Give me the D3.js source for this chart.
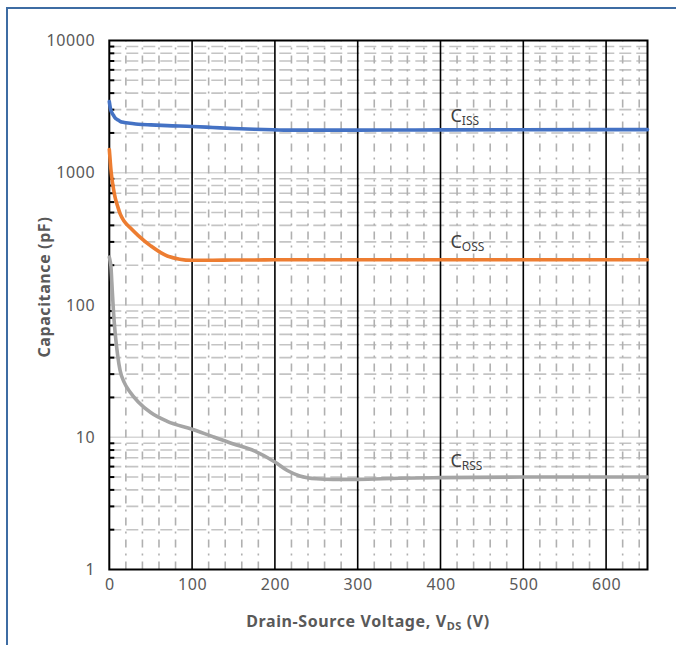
<!DOCTYPE html>
<html>
<head>
<meta charset="utf-8">
<script src="https://cdn.jsdelivr.net/npm/d3@7/dist/d3.min.js"></script>
<style>
  html, body { margin: 0; padding: 0; background: #fff; }
  svg { display: block; }
</style>
</head>
<body>
<script>
// ---- data ----
const vds  = [0, 1, 2, 3, 5, 7, 10, 13, 18, 25, 35, 50, 70, 100, 125, 150, 175, 200, 215, 230, 250, 270, 300, 350, 400, 500, 650];
const ciss = [3450, 3150, 2950, 2850, 2720, 2600, 2520, 2450, 2400, 2370, 2330, 2300, 2270, 2240, 2200, 2160, 2130, 2110, 2100, 2100, 2100, 2100, 2100, 2105, 2110, 2115, 2120];
const coss = [1500, 1250, 1050, 920, 760, 650, 560, 490, 430, 385, 335, 280, 235, 218, 218, 219, 219, 220, 220, 220, 220, 220, 220, 220, 220, 220, 220];
const crss = [230, 215, 195, 150, 90, 62, 42, 32, 26, 22, 18.5, 15.4, 13.2, 11.5, 10.1, 8.9, 7.9, 6.5, 5.6, 5.1, 4.85, 4.8, 4.8, 4.9, 4.95, 5.0, 5.0];
const seriesNames = ["C", "C", "C"];
const seriesSubs  = ["ISS", "OSS", "RSS"];
const seriesColors = ["#4472C4", "#ED7D31", "#A5A5A5"];
const labelAt = [[412, 2420], [412, 270], [412, 6.0]];
const xTicks = [0, 100, 200, 300, 400, 500, 600];
const yTicks = [1, 10, 100, 1000, 10000];
const xTitle = "Drain-Source Voltage, V";
const xTitleSub = "DS";
const xTitleEnd = " (V)";
const yTitle = "Capacitance (pF)";

// ---- layout ----
const W = 676, H = 645;
const L = 109.3, R = 647.5, T = 40.5, B = 569.5;
const font = "'Noto Sans', 'Liberation Sans', sans-serif";

const svg = d3.select("body").append("svg").attr("width", W).attr("height", H);
svg.append("rect").attr("width", W).attr("height", H).attr("fill", "#fff");
// outer frame (extends past right/bottom edge)
svg.append("rect").attr("x", 7).attr("y", 8).attr("width", W + 20).attr("height", H + 20)
  .attr("fill", "none").attr("stroke", "#3E6CA3").attr("stroke-width", 2);

const x = d3.scaleLinear().domain([0, 650]).range([L, R]);
const y = d3.scaleLog().domain([1, 10000]).range([B, T]);

const g = svg.append("g");

// minor horizontal gridlines
const minorY = [];
for (let d = 1; d < 10000; d *= 10) for (let k = 2; k <= 9; k++) minorY.push(d * k);
g.append("g").selectAll("line").data(minorY).join("line")
  .attr("x1", L).attr("x2", R)
  .attr("y1", d => y(d)).attr("y2", d => y(d))
  .attr("stroke", "#c4c4c4").attr("stroke-width", 1.6)
  .attr("stroke-dasharray", "12,5");
// major horizontal gridlines
g.append("g").selectAll("line").data([10, 100, 1000]).join("line")
  .attr("x1", L).attr("x2", R)
  .attr("y1", d => y(d)).attr("y2", d => y(d))
  .attr("stroke", "#d6d6d6").attr("stroke-width", 1.6);
// minor vertical gridlines
const minorX = d3.range(20, 650, 20).filter(v => v % 100 !== 0);
g.append("g").selectAll("line").data(minorX).join("line")
  .attr("x1", d => x(d)).attr("x2", d => x(d))
  .attr("y1", B).attr("y2", T)
  .attr("stroke", "#b0b0b0").attr("stroke-width", 1.6)
  .attr("stroke-dasharray", "8,6,2,6");
// major vertical gridlines
g.append("g").selectAll("line").data([100, 200, 300, 400, 500, 600]).join("line")
  .attr("x1", d => x(d)).attr("x2", d => x(d))
  .attr("y1", B).attr("y2", T)
  .attr("stroke", "#000").attr("stroke-width", 1.6);

// plot border
g.append("rect").attr("x", L).attr("y", T).attr("width", R - L).attr("height", B - T)
  .attr("fill", "none").attr("stroke", "#000").attr("stroke-width", 2);

// y minor ticks (inside)
g.append("g").selectAll("line").data(minorY).join("line")
  .attr("x1", L).attr("x2", L + 5)
  .attr("y1", d => y(d)).attr("y2", d => y(d))
  .attr("stroke", "#000").attr("stroke-width", 2);

// axes labels via d3 axes
const yAxis = d3.axisLeft(y).tickValues(yTicks).tickFormat(d3.format("d")).tickSize(0).tickPadding(14);
const ya = svg.append("g").attr("transform", `translate(${L},0)`).call(yAxis);
ya.select(".domain").remove();
ya.selectAll("text").attr("font-family", font).attr("font-size", 16).attr("letter-spacing", 0.6).attr("fill", "#595959");

const xAxis = d3.axisBottom(x).tickValues(xTicks).tickSize(0).tickPadding(9);
const xa = svg.append("g").attr("transform", `translate(0,${B})`).call(xAxis);
xa.select(".domain").remove();
xa.selectAll("text").attr("font-family", font).attr("font-size", 16).attr("letter-spacing", 0.6).attr("fill", "#595959");

// series
const line = d3.line().x(d => x(d[0])).y(d => y(d[1])).curve(d3.curveMonotoneX);
[ciss, coss, crss].forEach((s, i) => {
  svg.append("path").datum(vds.map((v, j) => [v, s[j]]))
    .attr("d", line).attr("fill", "none")
    .attr("stroke", seriesColors[i]).attr("stroke-width", 3.6)
    .attr("stroke-linejoin", "round").attr("stroke-linecap", "round");
});

// series labels
labelAt.forEach((p, i) => {
  const t = svg.append("text").attr("x", x(p[0])).attr("y", y(p[1]))
    .attr("font-family", font).attr("fill", "#404040");
  t.append("tspan").attr("font-size", 18).text(seriesNames[i]);
  t.append("tspan").attr("font-size", 12).attr("dy", 3).text(seriesSubs[i]);
});

// axis titles
const xt = svg.append("text").attr("x", 368).attr("y", 627)
  .attr("text-anchor", "middle").attr("font-family", font).attr("font-weight", "bold")
  .attr("font-size", 16).attr("letter-spacing", 0.6).attr("fill", "#595959");
xt.append("tspan").text(xTitle);
xt.append("tspan").attr("font-size", 11).attr("dy", 3).text(xTitleSub);
xt.append("tspan").attr("dy", -3).text(xTitleEnd);

svg.append("text").attr("transform", `translate(50,287) rotate(-90)`)
  .attr("text-anchor", "middle").attr("font-family", font).attr("font-weight", "bold")
  .attr("font-size", 16).attr("letter-spacing", 0.6).attr("fill", "#595959").text(yTitle);
</script>
</body>
</html>
